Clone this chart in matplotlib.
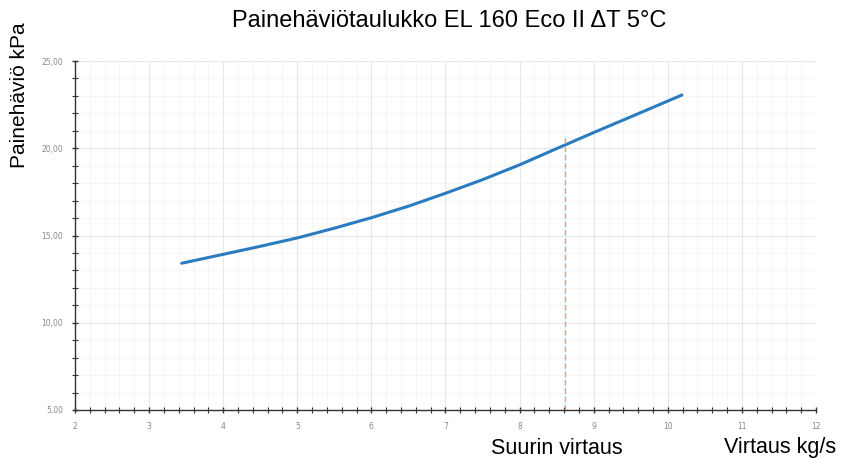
import matplotlib
matplotlib.use("Agg")
import matplotlib.pyplot as plt
from matplotlib.ticker import MultipleLocator, FuncFormatter

flow = [3.44, 4.0, 4.5, 5.0, 5.5, 6.0, 6.5, 7.0, 7.5, 8.0, 8.5, 9.0, 9.5, 10.19]
dp = [13.41, 13.92, 14.38, 14.86, 15.42, 16.02, 16.68, 17.42, 18.20, 19.05, 19.98,
      20.90, 21.80, 23.05]
max_flow = 8.61
max_flow_top = 20.6

title = "Painehäviötaulukko EL 160 Eco II ΔT 5°C"
ylabel = "Painehäviö kPa"
xlabel = "Virtaus kg/s"
maxlabel = "Suurin virtaus"

W, H = 845, 459
fig = plt.figure(figsize=(W / 100, H / 100), dpi=100)
ax = fig.add_axes([75 / W, 1 - 410 / H, (816 - 75) / W, (410 - 61) / H])

ax.set_xlim(2, 12)
ax.set_ylim(5, 25)
ax.xaxis.set_major_locator(MultipleLocator(1))
ax.xaxis.set_minor_locator(MultipleLocator(0.2))
ax.yaxis.set_major_locator(MultipleLocator(5))
ax.yaxis.set_minor_locator(MultipleLocator(1))
ax.yaxis.set_major_formatter(FuncFormatter(lambda v, p: f"{v:.2f}".replace(".", ",")))

ax.grid(True, which="major", color="#e6e6e6", linewidth=0.8)
ax.grid(True, which="minor", color="#f4f4f4", linewidth=0.6)
ax.set_axisbelow(True)

for s in ["top", "right"]:
    ax.spines[s].set_visible(False)
for s in ["left", "bottom"]:
    ax.spines[s].set_color("#333333")
    ax.spines[s].set_linewidth(1.0)

ax.tick_params(which="major", direction="inout", length=5, width=1, color="#333333",
               labelsize=5.5, labelcolor="#888888", pad=6)
ax.tick_params(which="minor", direction="inout", length=4, width=0.8, color="#333333")

ax.plot(flow, dp, color="#2a7bbf", linewidth=2.2, solid_capstyle="round",
        solid_joinstyle="round")
ax.plot([max_flow, max_flow], [5, max_flow_top], color="#f0a060", linewidth=1.0,
        linestyle=(0, (4, 2)))

fig.text(449 / W, 1 - 21 / H, title, ha="center", va="center", fontsize=17,
         family="Liberation Sans")
fig.text(20 / W, 1 - 95 / H, ylabel, ha="center", va="center", rotation=90,
         fontsize=15, family="Liberation Sans")
fig.text(557 / W, 1 - 448 / H, maxlabel, ha="center", va="center", fontsize=15.5,
         family="Liberation Sans")
fig.text(780 / W, 1 - 448 / H, xlabel, ha="center", va="center", fontsize=15.5,
         family="Liberation Sans")

fig.savefig("out.png", dpi=100)
